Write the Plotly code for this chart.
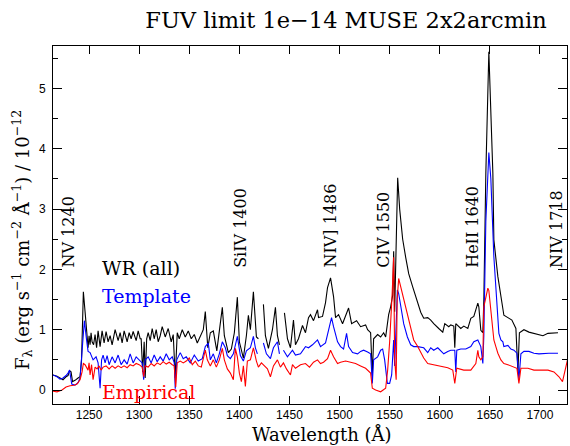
import plotly.graph_objects as go

# ---------------- data ----------------
wr_wave = [1214, 1218, 1221, 1224, 1227, 1229, 1230.5, 1232, 1233.5, 1236, 1239, 1241, 1242.5, 1244.3, 1246,
           1247.5, 1249, 1250, 1251, 1252, 1253, 1254.5, 1256, 1257.5, 1259, 1261, 1263, 1265, 1267, 1269,
           1271, 1273, 1276, 1279, 1281, 1283, 1285, 1288, 1290, 1292, 1294, 1297, 1299, 1301, 1302,
           1303.5, 1305, 1306, 1307.5, 1309, 1311, 1313, 1315, 1317, 1319, 1321, 1323, 1326, 1329, 1332,
           1334, 1336, 1338, 1340, 1343, 1346, 1349, 1352, 1355, 1358, 1361, 1364, 1366, 1368.5, 1371,
           1374, 1377.5, 1383, 1385, 1389, 1392, 1395, 1398, 1400, 1404, 1407, 1409, 1411, 1414, 1417,
           1419, 1421, 1424, 1426, 1429, 1433, 1436, 1438, 1440, 1442, 1445, 1448, 1451, 1454, 1456,
           1459, 1463, 1466, 1469, 1471, 1474, 1478, 1479, 1483, 1486, 1488, 1491, 1494, 1496, 1499,
           1503, 1506, 1509, 1512, 1517, 1521, 1526, 1528, 1531, 1532.7, 1534, 1538, 1541, 1544, 1546,
           1549, 1551, 1553, 1554, 1555, 1556.5, 1558, 1560, 1561, 1563, 1566, 1569, 1573, 1576, 1581,
           1584, 1588, 1591, 1594, 1599, 1603, 1605, 1609, 1611, 1614, 1615, 1616, 1621, 1624, 1628,
           1631, 1634, 1638, 1639, 1641, 1643, 1644, 1646, 1649, 1653, 1654, 1658, 1661, 1664, 1668,
           1672, 1676, 1678, 1679.5, 1684, 1689, 1694, 1699, 1703, 1708, 1714, 1718]
wr_flux = [0.25, 0.23, 0.20, 0.17, 0.22, 0.24, 0.32, 0.30, 0.14, 0.16, 0.20, 0.22, 0.50, 1.63, 1.30,
           0.95, 0.70, 0.90, 0.75, 0.95, 0.80, 0.75, 0.92, 0.70, 0.98, 0.72, 0.98, 0.78, 0.97, 0.80,
           0.90, 0.75, 1.00, 0.82, 0.95, 0.78, 0.98, 0.80, 0.95, 0.85, 0.97, 0.82, 0.98, 0.85, 0.85,
           0.30, 0.80, 0.20, 0.85, 0.95, 0.82, 1.02, 0.85, 1.00, 0.80, 0.90, 1.05, 0.88, 1.02, 0.80,
           0.92, 0.20, 0.95, 0.85, 1.00, 0.88, 0.98, 0.85, 0.92, 0.78, 0.88, 1.00, 1.30, 0.70, 0.95,
           0.98, 0.65, 1.37, 0.90, 0.62, 0.68, 0.95, 1.54, 0.80, 0.53, 0.90, 1.24, 1.00, 1.63, 0.88,
           0.85, None, 1.42, 0.90, 0.69, 1.00, 1.37, 0.90, 0.75, None, 1.28, 0.85, 0.70, 1.16, 0.75,
           0.85, 1.07, 0.95, 1.20, 1.25, 1.15, 1.33, 1.20, 1.22, 1.45, 1.70, 1.86, 1.55, 1.20, 1.25,
           1.10, 1.24, 1.36, 1.10, 1.15, 1.05, 1.08, 1.00, 0.95, 0.24, 0.85, 0.92, 0.88, 0.95, 0.88,
           1.25, 1.38, 1.57, 2.30, 1.30, 2.50, 3.52, 3.00, 2.82, 2.50, 2.20, 1.93, 1.71, 1.54, 1.29,
           1.19, 1.20, 1.16, 1.10, 1.02, 0.96, 1.10, 1.05, 1.08, 1.06, 0.70, 1.10, 1.02, 1.06, 1.02,
           1.19, 1.22, 1.44, 1.38, 0.99, 0.95, 1.50, 3.60, 5.61, 3.60, 2.49, 1.88, 1.54, 1.24, 1.20,
           1.16, 1.02, 0.30, 0.95, 1.00, 0.96, 0.94, 0.92, 0.90, 0.94, 0.94, 0.95]

tpl_wave = [1214, 1218, 1221, 1224, 1227, 1229, 1230.5, 1232.7, 1236, 1239, 1241, 1243, 1245.3, 1247.5,
            1249, 1251, 1254, 1257, 1259, 1261, 1262.5, 1264, 1266, 1268, 1270, 1273, 1276, 1279, 1282,
            1285, 1288, 1291, 1294, 1297, 1300, 1303, 1304.5, 1306, 1309, 1312, 1315, 1318, 1321, 1324,
            1327, 1330, 1333, 1335, 1336, 1337.5, 1341, 1344, 1347, 1351, 1355, 1359, 1363, 1366, 1369,
            1371, 1374, 1377, 1380, 1383, 1386, 1388, 1391, 1394, 1398, 1401, 1404, 1407, 1411, 1414,
            1416, 1418, 1421, 1424, 1427, 1431, 1434, 1438, 1440, 1442, 1444, 1448, 1453, 1456, 1461,
            1466, 1469, 1473, 1478, 1481, 1486, 1489, 1492, 1494, 1498, 1501, 1504, 1507, 1509, 1513,
            1518, 1521, 1524, 1528, 1531, 1532.7, 1534, 1538, 1541, 1543, 1545, 1547.7, 1550, 1552,
            1554, 1555, 1557.7, 1559, 1561, 1564, 1567.7, 1571, 1574, 1578, 1584, 1588, 1591, 1594,
            1598, 1601, 1604, 1608, 1611, 1615, 1616, 1617, 1621, 1626, 1631, 1634, 1638, 1641, 1643,
            1644, 1646, 1649, 1651, 1654, 1656, 1658, 1659, 1661, 1663, 1664, 1668, 1671, 1674, 1677,
            1679, 1681, 1684, 1689, 1694, 1699, 1704, 1709, 1714, 1718]
tpl_flux = [0.25, 0.22, 0.18, 0.20, 0.24, 0.28, 0.33, 0.10, 0.08, 0.12, 0.20, 0.60, 1.15, 0.83,
            0.64, 0.62, 0.50, 0.55, 0.45, 0.03, 0.50, 0.58, 0.45, 0.57, 0.42, 0.55, 0.45, 0.58, 0.42,
            0.50, 0.43, 0.60, 0.45, 0.55, 0.50, 0.45, 0.17, 0.50, 0.55, 0.45, 0.58, 0.47, 0.55, 0.48,
            0.60, 0.50, 0.55, 0.45, 0.02, 0.50, 0.62, 0.52, 0.55, 0.45, 0.58, 0.48, 0.52, 0.72, 0.78,
            0.50, 0.60, 0.45, 0.60, 0.80, 0.70, 0.57, 0.52, 0.60, 0.89, 0.57, 0.48, 0.65, 0.70, 0.89,
            0.70, 0.60, None, 0.78, 0.60, 0.52, 0.70, 0.80, 0.60, None, 0.66, 0.55, 0.66, 0.58, 0.60,
            0.72, 0.70, 0.75, 0.83, 0.72, 0.78, 1.00, 1.20, 1.05, 0.80, 0.72, 0.68, 0.94, 0.72, 0.62,
            0.60, 0.64, 0.66, 0.63, 0.60, 0.11, 0.50, 0.55, 0.66, 0.68, 0.50, 0.11, 0.11, 0.25,
            0.83, 0.40, 1.66, 1.60, 1.38, 1.10, 0.88, 0.75, 0.72, 0.72, 0.70, 0.62, 0.70, 0.66,
            0.70, 0.65, 0.60, 0.64, 0.66, 0.66, 0.30, 0.66, 0.68, 0.68, 0.72, 0.80, 0.83, 0.72, 0.44,
            0.90, 2.80, 3.94, 3.50, 2.21, 1.66, 1.22, 0.94, 0.83, 0.80, 0.72, 0.74, 0.68, 0.66, 0.61,
            0.17, 0.60, 0.64, 0.64, 0.61, 0.60, 0.61, 0.61, 0.61, 0.61]

emp_wave = [1214, 1218, 1223, 1227, 1231, 1235, 1238, 1241, 1243, 1244.3, 1246, 1247.5, 1249, 1250,
            1251, 1252.5, 1254, 1256, 1258, 1260, 1262, 1264, 1267, 1270, 1273, 1276, 1279, 1282,
            1285, 1288, 1291, 1294, 1297, 1300, 1303, 1304.5, 1306, 1309, 1312, 1315, 1318, 1321,
            1324, 1327, 1330, 1333, 1335, 1336.5, 1338, 1341, 1344, 1347, 1350, 1353, 1356, 1359,
            1362, 1366, 1368, 1371, 1374, 1377, 1380, 1383, 1385, 1388, 1391, 1394, 1396, 1398, 1400,
            1402, 1404, 1406, 1408, 1411, 1414, 1417, 1419, 1422, 1425, 1428, 1431, 1434, 1438, 1441,
            1444, 1447, 1451, 1453, 1456, 1461, 1466, 1470, 1474, 1478, 1481, 1484, 1488, 1491, 1494,
            1498, 1501, 1506, 1511, 1516, 1521, 1526, 1531, 1532.7, 1536, 1541, 1546, 1548, 1550,
            1551, 1552.5, 1554, 1555, 1556.5, 1557.5, 1559, 1561, 1564, 1567.7, 1571, 1574, 1578,
            1581, 1584, 1588, 1594, 1601, 1608, 1613, 1615, 1617, 1624, 1631, 1636, 1638, 1639, 1641,
            1643, 1644, 1648, 1649, 1651, 1653, 1654, 1656, 1658, 1661, 1664, 1668, 1673, 1677, 1679,
            1681, 1688, 1694, 1701, 1708, 1714, 1719, 1722.5, 1725, 1727.5, 1731]
emp_flux = [-0.02, -0.03, 0.00, 0.05, 0.07, 0.08, 0.10, 0.17, 0.30, 0.44, 0.42, 0.38, 0.33, 0.45,
            0.25, 0.42, 0.17, 0.38, 0.35, 0.40, 0.33, 0.38, 0.40, 0.35, 0.40, 0.36, 0.40, 0.37,
            0.40, 0.37, 0.42, 0.40, 0.44, 0.42, 0.38, 0.22, 0.40, 0.38, 0.44, 0.40, 0.45, 0.42,
            0.47, 0.43, 0.46, 0.42, 0.40, 0.05, 0.45, 0.48, 0.45, 0.48, 0.53, 0.42, 0.48, 0.40,
            0.38, 0.66, 0.50, 0.40, 0.50, 0.38, 0.50, 0.69, 0.50, 0.35, 0.28, 0.17, 0.69, 0.55, 0.28,
            0.14, 0.40, 0.06, 0.48, 0.50, 0.70, 0.48, 0.38, 0.45, 0.40, 0.35, 0.22, 0.40, 0.50, 0.38,
            0.45, 0.35, 0.25, 0.42, 0.36, 0.42, 0.44, 0.38, 0.46, 0.50, 0.44, 0.46, 0.52, 0.66, 0.55,
            0.44, 0.46, 0.48, 0.46, 0.44, 0.40, 0.36, 0.28, 0.03, 0.00, -0.03, 0.03, 0.33, 0.80,
            1.05, 1.60, 2.20, 0.50, 0.17, 1.50, 1.85, 1.71, 1.52, 1.22, 0.99, 0.83, 0.72,
            0.61, 0.53, 0.44, 0.42, 0.39, 0.37, 0.33, 0.11, 0.36, 0.33, 0.33, 0.44, 0.66, 0.55, 0.50,
            0.55, 1.38, 1.69, 1.65, 1.30, 0.99, 0.83, 0.72, 0.61, 0.50, 0.44, 0.42, 0.39, 0.36, 0.11,
            0.36, 0.36, 0.33, 0.33, 0.33, 0.30, 0.22, 0.14, 0.30, 0.50, 0.52]

line_labels = ["NV 1240", "SiIV 1400", "NIV] 1486", "CIV 1550", "HeII 1640", "NIV 1718"]
line_label_wave = [1229, 1400.5, 1490, 1543, 1632, 1716]

x_ticks = [1250, 1300, 1350, 1400, 1450, 1500, 1550, 1600, 1650, 1700]

SERIF = "DejaVu Serif"
SANS = "Liberation Sans"

fig = go.Figure()
fig.add_trace(go.Scatter(x=wr_wave, y=wr_flux, mode="lines", line=dict(color="black", width=1.1),
                         connectgaps=False, showlegend=False))
fig.add_trace(go.Scatter(x=tpl_wave, y=tpl_flux, mode="lines", line=dict(color="#0000ff", width=1.1),
                         connectgaps=False, showlegend=False))
fig.add_trace(go.Scatter(x=emp_wave, y=emp_flux, mode="lines", line=dict(color="#ff0000", width=1.1),
                         connectgaps=False, showlegend=False))

annotations = []
for lab, wv in zip(line_labels, line_label_wave):
    annotations.append(dict(x=wv, y=1.99, xref="x", yref="y", text=lab, textangle=-90,
                            showarrow=False, xanchor="center", yanchor="bottom",
                            font=dict(family=SERIF, size=16, color="black")))

for txt, col, yv in [("WR (all)", "black", 2.02), ("Template", "#0000ff", 1.56), ("Empirical", "#ff0000", -0.03)]:
    annotations.append(dict(x=1261, y=yv, xref="x", yref="y", text=txt, showarrow=False,
                            xanchor="left", yanchor="middle",
                            font=dict(family=SERIF, size=19, color=col)))

# axis titles
annotations.append(dict(x=(322 - 53) / 514, y=-(434 - 404) / 358, xref="paper", yref="paper",
                        text="Wavelength (Å)", showarrow=False, xanchor="center", yanchor="middle",
                        font=dict(family=SERIF, size=18, color="black")))
annotations.append(dict(x=-(53 - 22) / 514, y=(404 - 240) / 358, xref="paper", yref="paper",
                        text="F<sub>λ</sub> (erg s<sup>−1</sup> cm<sup>−2</sup> Å<sup>−1</sup>) / 10<sup>−12</sup>",
                        textangle=-90, showarrow=False, xanchor="center", yanchor="middle",
                        font=dict(family=SERIF, size=18, color="black")))

fig.update_layout(
    width=570, height=446,
    margin=dict(l=53, r=3, t=46, b=42),
    paper_bgcolor="white", plot_bgcolor="white",
    title=dict(text="FUV limit 1e−14 MUSE 2x2arcmin", x=(346 - 53) / 514, xref="paper",
               y=1 - 20 / 446, yref="container", xanchor="center", yanchor="middle",
               font=dict(family=SERIF, size=22.5, color="black")),
    annotations=annotations,
    showlegend=False,
)
fig.update_xaxes(range=[1214, 1727], tickmode="array", tickvals=x_ticks,
                 ticks="inside", ticklen=8, tickcolor="black", showgrid=False, zeroline=False,
                 showline=True, linecolor="black", linewidth=1, mirror="allticks",
                 tickfont=dict(family=SANS, size=12, color="black"))
fig.update_yaxes(range=[-0.232, 5.705], tickmode="linear", tick0=0, dtick=1,
                 ticks="inside", ticklen=9, tickcolor="black", showgrid=False, zeroline=False,
                 showline=True, linecolor="black", linewidth=1, mirror="allticks",
                 tickfont=dict(family=SANS, size=12, color="black"), ticklabelstandoff=4,
                 minor=dict(dtick=0.5, ticks="inside", ticklen=5, tickcolor="black", showgrid=False))

fig.write_html("out.html")
